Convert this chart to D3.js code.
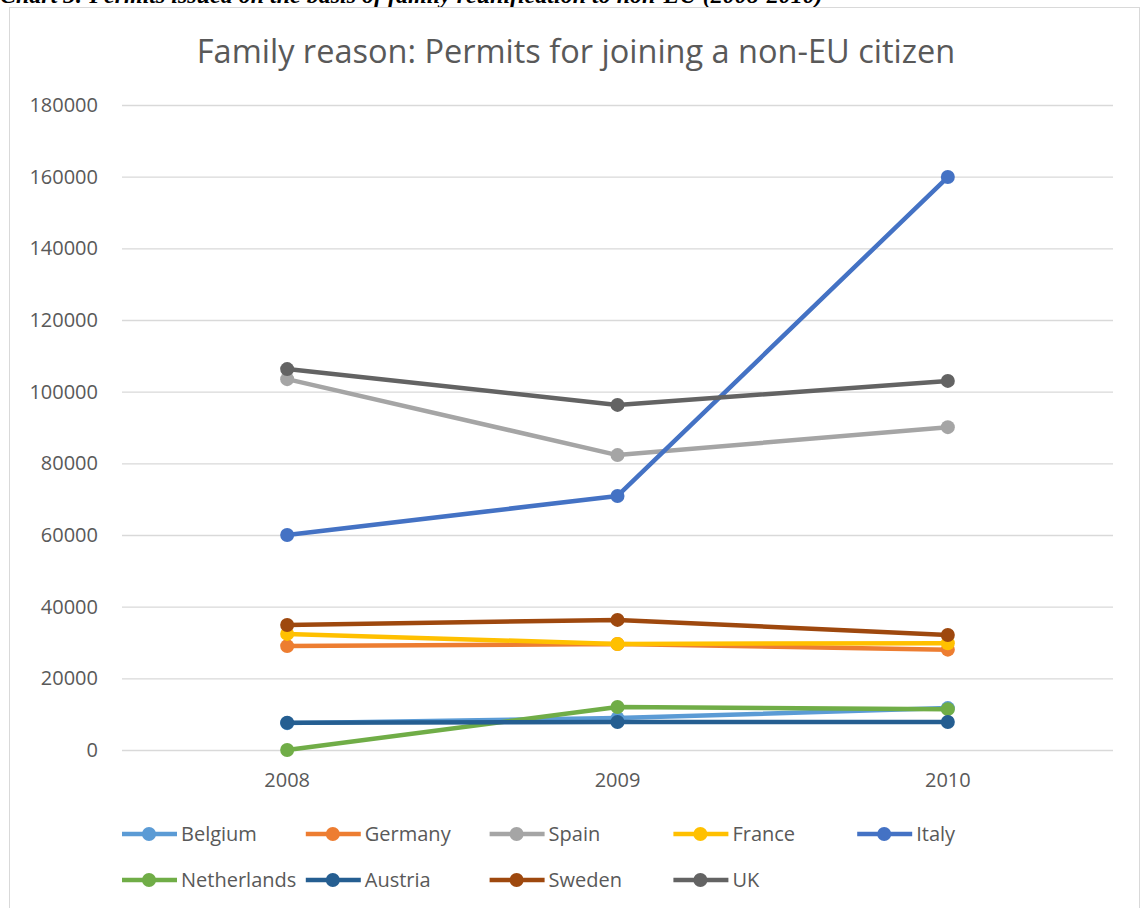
<!DOCTYPE html>
<html><head><meta charset="utf-8">
<script src="https://cdn.jsdelivr.net/npm/d3@7"></script>
<style>body{margin:0;background:#fff;} svg{display:block;}</style>
</head><body>
<svg id="c" width="1143" height="908"></svg>
<script>
const years = ["2008","2009","2010"];
const yTicks = [0,20000,40000,60000,80000,100000,120000,140000,160000,180000];
const countries = ["Belgium","Germany","Spain","France","Italy","Netherlands","Austria","Sweden","UK"];
const colors = ["#5B9BD5","#ED7D31","#A5A5A5","#FFC000","#4472C4","#70AD47","#255E91","#9E480E","#636363"];
const belgium = [7500, 8900, 11700];
const germany = [29000, 29600, 28000];
const spain = [103500, 82300, 90100];
const france = [32400, 29600, 29800];
const italy = [60000, 70900, 159900];
const netherlands = [0, 12000, 11400];
const austria = [7600, 7800, 7800];
const sweden = [34900, 36300, 32100];
const uk = [106300, 96300, 103000];
const seriesValues = [belgium, germany, spain, france, italy, netherlands, austria, sweden, uk];

const svg = d3.select("#c");
const font = "'Open Sans', 'Liberation Sans', sans-serif";
const textCol = "#595959";

// caption above the chart (cut off by the top edge, as in the reference)
svg.append("text").attr("x", 0).attr("y", 3)
  .attr("font-family", "'Liberation Serif', serif").attr("font-weight", "bold").attr("font-style", "italic")
  .attr("font-size", 24).attr("fill", "#000")
  .text("Chart 3: Permits issued on the basis of family reunification to non-EU (2008-2010)");

// chart frame
svg.append("rect").attr("x", 9.5).attr("y", 7.5).attr("width", 1130).attr("height", 920)
  .attr("fill", "#fff").attr("stroke", "#d9d9d9").attr("stroke-width", 1);

const x = d3.scaleBand().domain(years).range([122, 1113]);
const y = d3.scaleLinear().domain([0, 180000]).range([750, 105]);

svg.append("text").attr("x", 576).attr("y", 63).attr("text-anchor", "middle")
  .attr("font-family", font).attr("font-size", 32.5).attr("fill", textCol)
  .text("Family reason: Permits for joining a non-EU citizen");

// gridlines
const yAxis = d3.axisLeft(y).tickValues(yTicks).tickSize(-(1113 - 122)).tickPadding(24).tickFormat(d3.format("d"));
const gy = svg.append("g").attr("transform", "translate(122,0)").call(yAxis);
gy.select(".domain").remove();
gy.selectAll(".tick line").attr("stroke", "#d9d9d9").attr("stroke-width", 1.3);
gy.selectAll(".tick text").attr("font-family", font).attr("font-size", 20).attr("fill", textCol);

const xAxis = d3.axisBottom(x).tickSize(0).tickPadding(23);
const gx = svg.append("g").attr("transform", "translate(0,750)").call(xAxis);
gx.select(".domain").remove();
gx.selectAll(".tick text").attr("font-family", font).attr("font-size", 20).attr("fill", textCol);

const line = d3.line().x((d, i) => x(years[i]) + x.bandwidth() / 2).y(d => y(d));

countries.forEach((c, k) => {
  const g = svg.append("g");
  g.append("path").datum(seriesValues[k]).attr("d", line)
    .attr("fill", "none").attr("stroke", colors[k]).attr("stroke-width", 4.5).attr("stroke-linejoin", "round");
  g.selectAll("circle").data(seriesValues[k]).enter().append("circle")
    .attr("cx", (d, i) => x(years[i]) + x.bandwidth() / 2).attr("cy", d => y(d)).attr("r", 7)
    .attr("fill", colors[k]);
});

// legend
const leg = svg.append("g");
countries.forEach((c, k) => {
  const col = k % 5, row = Math.floor(k / 5);
  const lx = 122 + col * 183.8, ly = 834 + row * 46;
  leg.append("line").attr("x1", lx).attr("x2", lx + 55).attr("y1", ly).attr("y2", ly)
    .attr("stroke", colors[k]).attr("stroke-width", 4.5);
  leg.append("circle").attr("cx", lx + 27).attr("cy", ly).attr("r", 7).attr("fill", colors[k]);
  leg.append("text").attr("x", lx + 59).attr("y", ly).attr("dy", "0.35em")
    .attr("font-family", font).attr("font-size", 20).attr("fill", textCol).text(c);
});
</script>
</body></html>
